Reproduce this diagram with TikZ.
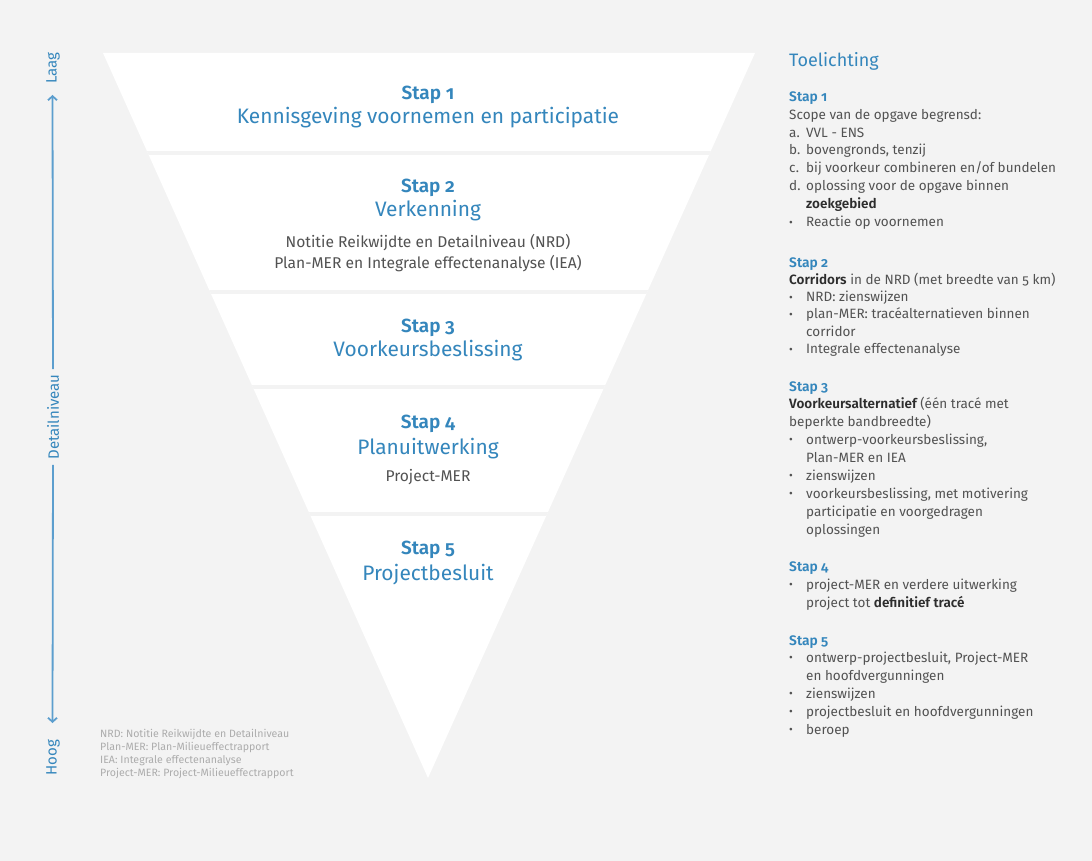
\documentclass[tikz,border=0pt]{standalone}
\usepackage{fontspec}
\setmainfont{Fira Sans}[Numbers=OldStyle]
\newfontfamily\semi{Fira Sans SemiBold}[Numbers=OldStyle]
\usetikzlibrary{arrows.meta}
\definecolor{bg}{RGB}{243,243,243}
\definecolor{tblue}{RGB}{52,134,188}
\definecolor{ablue}{RGB}{92,158,206}
\definecolor{bodyc}{RGB}{82,82,82}
\definecolor{darkc}{RGB}{45,45,45}
\definecolor{legc}{RGB}{172,172,172}
\newcommand\lbl[1]{\makebox[17pt][l]{#1}}
\newcommand\bul{\makebox[17pt][l]{\raisebox{0.5pt}{\fontsize{11.5}{11}\selectfont •}}}
\newcommand\myemph[1]{{\semi\color{darkc}#1}}
\tikzset{
  stapT/.style={font=\semi\fontsize{19}{22}\selectfont, text=tblue, anchor=base, inner sep=0pt},
  titleT/.style={font=\fontsize{20.9}{24}\selectfont, text=tblue, anchor=base, inner sep=0pt},
  subT/.style={font=\fontsize{15.6}{18}\selectfont, text=bodyc, anchor=base, inner sep=0pt},
  axlbl/.style={font=\fontsize{15}{18}\selectfont, text=tblue, rotate=90, inner sep=0pt},
  axline/.style={draw=ablue, line width=1.8pt},
  rhead/.style={font=\semi\fontsize{13.8}{16}\selectfont, text=tblue, anchor=base west, inner sep=0pt},
  rtxt/.style={font=\fontsize{13.5}{16}\selectfont, text=bodyc, anchor=base west, inner sep=0pt},
  legtxt/.style={font=\fontsize{10.6}{12}\selectfont, text=legc, anchor=base west, inner sep=0pt},
  band/.style={fill=white},
  gap/.style={fill=bg}
}
\begin{document}
\begin{tikzpicture}[x=1pt,y=-1pt]
\useasboundingbox (0,0) rectangle (1092,861);
\fill[bg] (0,0) rectangle (1092,861);
% inverted triangle
\coordinate (tl) at (103,53);
\coordinate (tr) at (755,53);
\coordinate (apex) at (428,778);
\fill[band] (tl) -- (tr) -- (apex) -- cycle;
\begin{scope}
  \clip (tl) -- (tr) -- (apex) -- cycle;
  \fill[gap] (0,151) rectangle (1092,155);
  \fill[gap] (0,290) rectangle (1092,294);
  \fill[gap] (0,385) rectangle (1092,389);
  \fill[gap] (0,512) rectangle (1092,516);
\end{scope}
% triangle texts
\node[stapT] (s1) at (428,99.5) {Stap 1};
\node[titleT] (t1) at (428,124) {Kennisgeving voornemen en participatie};
\node[stapT] (s2) at (428,192.5) {Stap 2};
\node[titleT] (t2) at (428,217) {Verkenning};
\node[subT] (n2a) at (428,247.5) {Notitie Reikwijdte en Detailniveau (NRD)};
\node[subT] (n2b) at (428,268.5) {Plan-MER en Integrale effectenanalyse (IEA)};
\node[stapT] (s3) at (428,332) {Stap 3};
\node[titleT] (t3) at (428,356) {Voorkeursbeslissing};
\node[stapT] (s4) at (428,428.5) {Stap 4};
\node[titleT] (t4) at (428,454) {Planuitwerking};
\node[subT] (n4) at (428,481.5) {Project-MER};
\node[stapT] (s5) at (428,554.5) {Stap 5};
\node[titleT] (t5) at (428,580) {Projectbesluit};
% left axis
\node[axlbl] (laag) at (53,68) {Laag};
\node[axlbl] (det) at (53,417) {Detailniveau};
\node[axlbl] (hoog) at (53,757.5) {Hoog};
\coordinate (uptip) at (52.5,95);
\coordinate (downtip) at (52.5,723);
\draw[axline, -{Straight Barb[length=4pt,width=9pt]}, shorten <=5pt] (det.east) -- (uptip);
\draw[axline, -{Straight Barb[length=4pt,width=9pt]}, shorten <=5pt] (det.west) -- (downtip);
% legend
\node[legtxt] (lg1) at (100,737) {NRD: Notitie Reikwijdte en Detailniveau};
\node[legtxt] (lg2) at (100,750) {Plan-MER: Plan-Milieueffectrapport};
\node[legtxt] (lg3) at (100,763) {IEA: Integrale effectenanalyse};
\node[legtxt] (lg4) at (100,776) {Project-MER: Project-Milieueffectrapport};
% right column
\node[font=\fontsize{18}{22}\selectfont, text=tblue, anchor=base west, inner sep=0pt] (toel) at (789,67) {Toelichting};
% Stap 1
\node[rhead] (h1) at (789,102) {Stap 1};
\node[rtxt] (r1a) at (789,119.5) {Scope van de opgave begrensd:};
\node[rtxt] (r1b) at (789,137.5) {\lbl{a.}VVL - ENS};
\node[rtxt] (r1c) at (789,155) {\lbl{b.}bovengronds, tenzij};
\node[rtxt] (r1d) at (789,172.5) {\lbl{c.}bij voorkeur combineren en/of bundelen};
\node[rtxt] (r1e) at (789,190.5) {\lbl{d.}oplossing voor de opgave binnen};
\node[rtxt] (r1f) at (806,208.5) {\myemph{zoekgebied}};
\node[rtxt] (r1g) at (789,226.5) {\bul Reactie op voornemen};
% Stap 2
\node[rhead] (h2) at (789,267) {Stap 2};
\node[rtxt] (r2a) at (789,284.5) {\myemph{Corridors} in de NRD (met breedte van 5 km)};
\node[rtxt] (r2b) at (789,301.5) {\bul NRD: zienswijzen};
\node[rtxt] (r2c) at (789,318.5) {\bul plan-MER: tracéalternatieven binnen};
\node[rtxt] (r2d) at (806,336) {corridor};
\node[rtxt] (r2e) at (789,353.5) {\bul Integrale effectenanalyse};
% Stap 3
\node[rhead] (h3) at (789,391) {Stap 3};
\node[rtxt] (r3a) at (789,408.5) {\myemph{Voorkeursalternatief} (één tracé met};
\node[rtxt] (r3b) at (789,426.5) {beperkte bandbreedte)};
\node[rtxt] (r3c) at (789,444) {\bul ontwerp-voorkeursbeslissing,};
\node[rtxt] (r3d) at (806,462) {Plan-MER en IEA};
\node[rtxt] (r3e) at (789,480) {\bul zienswijzen};
\node[rtxt] (r3f) at (789,498) {\bul voorkeursbeslissing, met motivering};
\node[rtxt] (r3g) at (806,516) {participatie en voorgedragen};
\node[rtxt] (r3h) at (806,534) {oplossingen};
% Stap 4
\node[rhead] (h4) at (789,571) {Stap 4};
\node[rtxt] (r4a) at (789,589) {\bul project-MER en verdere uitwerking};
\node[rtxt] (r4b) at (806,607) {project tot \myemph{definitief tracé}};
% Stap 5
\node[rhead] (h5) at (789,645) {Stap 5};
\node[rtxt] (r5a) at (789,662) {\bul ontwerp-projectbesluit, Project-MER};
\node[rtxt] (r5b) at (806,680) {en hoofdvergunningen};
\node[rtxt] (r5c) at (789,698) {\bul zienswijzen};
\node[rtxt] (r5d) at (789,716) {\bul projectbesluit en hoofdvergunningen};
\node[rtxt] (r5e) at (789,734) {\bul beroep};
\end{tikzpicture}
\end{document}
